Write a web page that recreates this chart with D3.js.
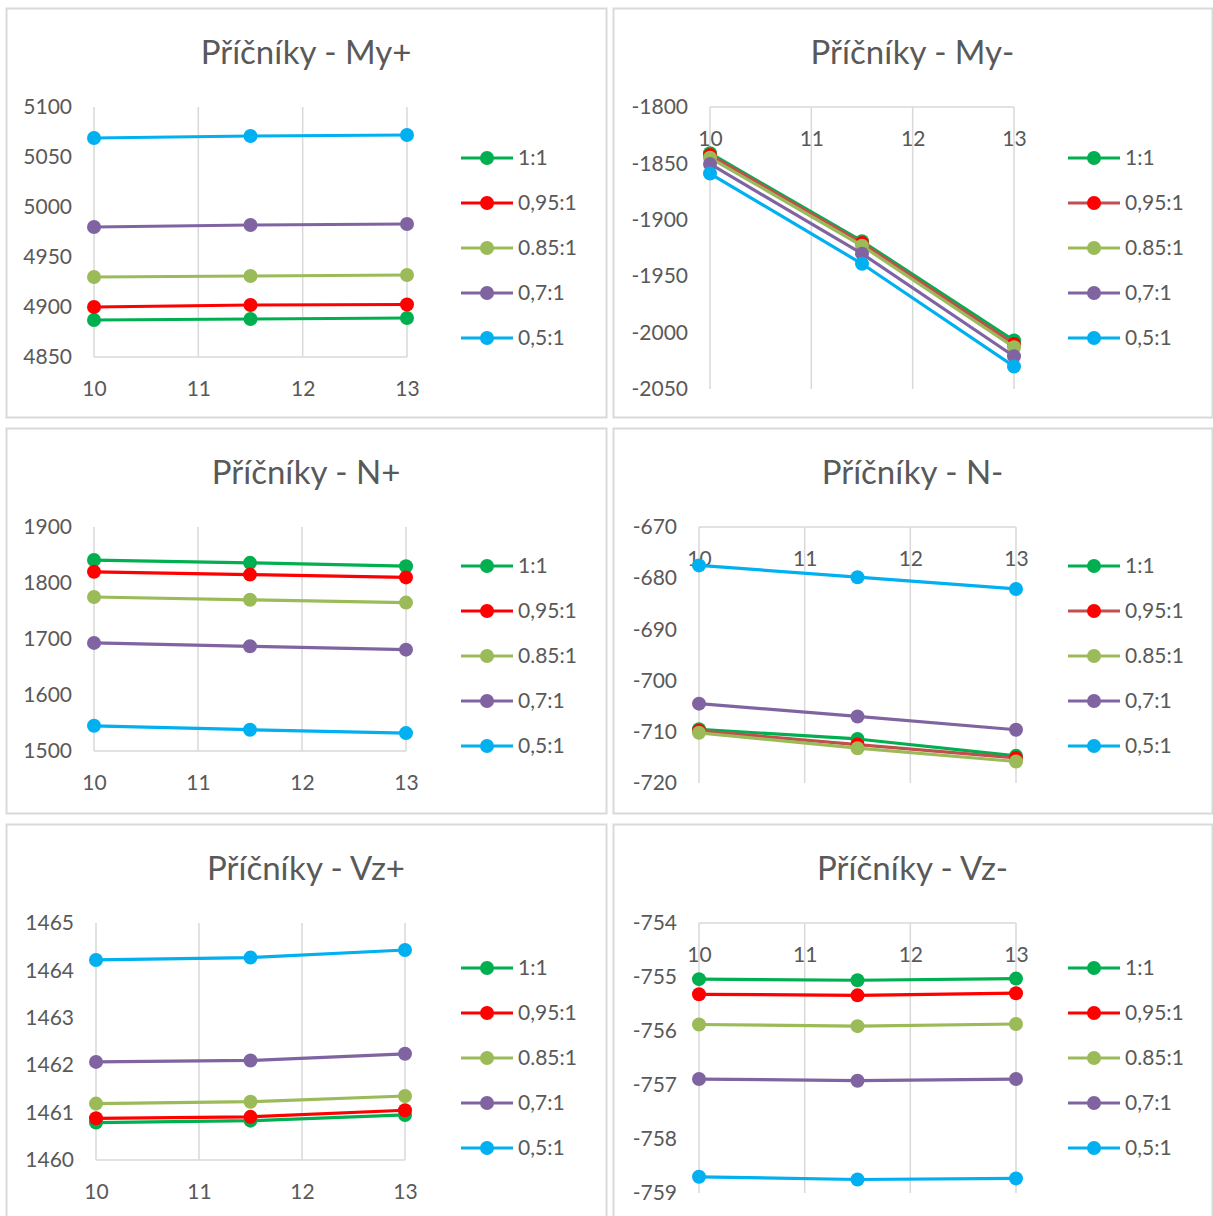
<!DOCTYPE html>
<html>
<head>
<meta charset="utf-8">
<script src="https://cdn.jsdelivr.net/npm/d3@7"></script>
<style>
  html, body { margin: 0; padding: 0; background: #ffffff; }
  svg { display: block; }
  text { font-family: "Lato", "Open Sans", sans-serif; fill: #595959; }
</style>
</head>
<body>
<svg id="chart" width="1213" height="1216"></svg>
<script>
// ---------- DATA ----------
const xValues = [10, 11.5, 13];
const xTicks = [10, 11, 12, 13];
const seriesNames = ["1:1", "0,95:1", "0.85:1", "0,7:1", "0,5:1"];

const chartTitles = ["Příčníky - My+", "Příčníky - My-", "Příčníky - N+", "Příčníky - N-", "Příčníky - Vz+", "Příčníky - Vz-"];

// My+
const myPlus = [
  [4887, 4888, 4889],
  [4900, 4902, 4902.5],
  [4930, 4931, 4932],
  [4980, 4982, 4983],
  [5069, 5071, 5072]
];
const myPlusTicks = [4850, 4900, 4950, 5000, 5050, 5100];

// My-
const myMinus = [
  [-1841, -1919, -2007],
  [-1842.5, -1920.5, -2010],
  [-1845, -1923, -2013],
  [-1850.5, -1930, -2021],
  [-1859, -1939, -2030]
];
const myMinusTicks = [-2050, -2000, -1950, -1900, -1850, -1800];

// N+
const nPlus = [
  [1841, 1836, 1830],
  [1820, 1815, 1810],
  [1775, 1770, 1765],
  [1693, 1687, 1681],
  [1545, 1538, 1532]
];
const nPlusTicks = [1500, 1600, 1700, 1800, 1900];

// N-
const nMinus = [
  [-709.5, -711.4, -714.7],
  [-709.8, -712.5, -715.1],
  [-710.2, -713.2, -715.8],
  [-704.5, -707.0, -709.6],
  [-677.5, -679.8, -682.1]
];
const nMinusTicks = [-720, -710, -700, -690, -680, -670];

// Vz+
const vzPlus = [
  [1460.79, 1460.83, 1460.95],
  [1460.88, 1460.91, 1461.05],
  [1461.19, 1461.23, 1461.35],
  [1462.07, 1462.10, 1462.24],
  [1464.22, 1464.27, 1464.43]
];
const vzPlusTicks = [1460, 1461, 1462, 1463, 1464, 1465];

// Vz-
const vzMinus = [
  [-755.04, -755.06, -755.03],
  [-755.32, -755.34, -755.30],
  [-755.88, -755.91, -755.87],
  [-756.89, -756.92, -756.89],
  [-758.70, -758.75, -758.73]
];
const vzMinusTicks = [-759, -758, -757, -756, -755, -754];

// ---------- STYLES / LAYOUT ----------
const seriesColors = ["#00b050", "#ff0000", "#9bbb59", "#8064a2", "#00b0f0"];
const seriesLineColorsAlt = ["#00b050", "#c0504d", "#9bbb59", "#8064a2", "#00b0f0"];

const panels = [
  { data: myPlus,  ticks: myPlusTicks,  box: [6, 8, 606, 417],    plot: [94, 407, 107, 357],  axisTop: false, lineColors: seriesColors,        legendX: 461, legendY: 158 },
  { data: myMinus, ticks: myMinusTicks, box: [613, 8, 1212, 417], plot: [710, 1014, 107, 389], axisTop: true,  lineColors: seriesLineColorsAlt, legendX: 1068, legendY: 158 },
  { data: nPlus,   ticks: nPlusTicks,   box: [6, 428, 606, 813],  plot: [94, 406, 527, 751],  axisTop: false, lineColors: seriesColors,        legendX: 461, legendY: 566 },
  { data: nMinus,  ticks: nMinusTicks,  box: [613, 428, 1212, 813], plot: [699, 1016, 527, 783], axisTop: true, lineColors: seriesLineColorsAlt, legendX: 1068, legendY: 566 },
  { data: vzPlus,  ticks: vzPlusTicks,  box: [6, 824, 606, 1240], plot: [96, 405, 923, 1160], axisTop: false, lineColors: seriesColors,        legendX: 461, legendY: 968 },
  { data: vzMinus, ticks: vzMinusTicks, box: [613, 824, 1212, 1240], plot: [699, 1016, 923, 1193], axisTop: true, lineColors: seriesColors,      legendX: 1068, legendY: 968 }
];

const gridColor = "#d9d9d9";
const tickFont = 21;
const titleFont = 33;
const legendFont = 21;
const legendGap = 45;
const markerR = 7;
const lineW = 3.2;

const svg = d3.select("#chart");

panels.forEach((p, pi) => {
  const [bx0, by0, bx1, by1] = p.box;
  const [px0, px1, pyTop, pyBot] = p.plot;
  const g = svg.append("g");

  // border
  g.append("rect")
    .attr("x", bx0 + 0.5).attr("y", by0 + 0.5)
    .attr("width", bx1 - bx0).attr("height", by1 - by0)
    .attr("fill", "#fff").attr("stroke", gridColor).attr("stroke-width", 2);

  // title
  g.append("text")
    .attr("x", (bx0 + bx1) / 2).attr("y", by0 + 56)
    .attr("text-anchor", "middle")
    .style("font-size", titleFont + "px")
    .text(chartTitles[pi]);

  const x = d3.scaleLinear().domain([10, 13]).range([px0, px1]);
  const y = d3.scaleLinear().domain([p.ticks[0], p.ticks[p.ticks.length - 1]]).range([pyBot, pyTop]);

  // vertical gridlines
  g.append("g").selectAll("line").data(xTicks).join("line")
    .attr("x1", d => x(d)).attr("x2", d => x(d))
    .attr("y1", pyTop).attr("y2", pyBot)
    .attr("stroke", gridColor).attr("stroke-width", 1.5);

  // horizontal axis line
  const axisY = p.axisTop ? pyTop : pyBot;
  g.append("line")
    .attr("x1", px0).attr("x2", px1).attr("y1", axisY).attr("y2", axisY)
    .attr("stroke", gridColor).attr("stroke-width", 1.5);

  // x axis labels
  const xAxis = d3.axisBottom(x).tickValues(xTicks).tickFormat(d3.format("d")).tickSize(0).tickPadding(24);
  const xg = g.append("g").attr("transform", `translate(0,${axisY})`).call(xAxis);
  xg.select(".domain").remove();
  xg.selectAll("text").style("font-size", tickFont + "px").attr("fill", "#595959").style("font-family", "Lato");

  // y axis labels
  const yAxis = d3.axisLeft(y).tickValues(p.ticks).tickFormat(d3.format("d")).tickSize(0).tickPadding(22);
  const yg = g.append("g").attr("transform", `translate(${px0},0)`).call(yAxis);
  yg.select(".domain").remove();
  yg.selectAll("text").style("font-size", tickFont + "px").attr("fill", "#595959").style("font-family", "Lato")
    .text(d => d3.format("d")(d).replace("−", "-"));

  // series
  const line = d3.line().x((d, i) => x(xValues[i])).y(d => y(d));
  p.data.forEach((vals, si) => {
    const sg = g.append("g");
    sg.append("path").datum(vals)
      .attr("d", line).attr("fill", "none")
      .attr("stroke", p.lineColors[si]).attr("stroke-width", lineW)
      .attr("stroke-linejoin", "round");
    sg.selectAll("circle").data(vals).join("circle")
      .attr("cx", (d, i) => x(xValues[i])).attr("cy", d => y(d))
      .attr("r", markerR).attr("fill", seriesColors[si]);
  });

  // legend
  seriesNames.forEach((name, si) => {
    const ly = p.legendY + si * legendGap;
    const lg = g.append("g");
    lg.append("line")
      .attr("x1", p.legendX).attr("x2", p.legendX + 52)
      .attr("y1", ly).attr("y2", ly)
      .attr("stroke", p.lineColors[si]).attr("stroke-width", lineW);
    lg.append("circle").attr("cx", p.legendX + 26).attr("cy", ly).attr("r", markerR).attr("fill", seriesColors[si]);
    lg.append("text").attr("x", p.legendX + 57).attr("y", ly).attr("dy", "0.35em")
      .style("font-size", legendFont + "px").text(name);
  });
});
</script>
</body>
</html>
